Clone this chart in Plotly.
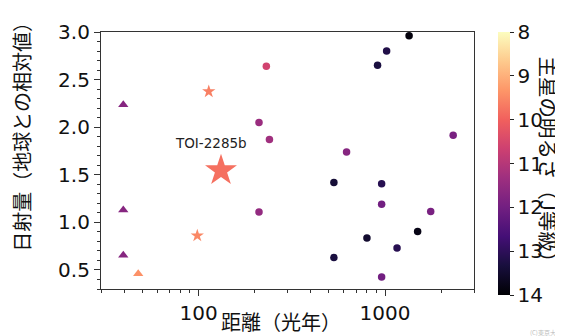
import numpy as np
import plotly.graph_objects as go

# ---- data (distance in light years, insolation relative to Earth, host-star J magnitude)
circ_dist = [231, 211, 240, 211, 1346, 1020, 912, 2320, 622, 532, 959, 959, 1758, 1496, 800, 1160, 532, 959]
circ_flux = [2.64, 2.05, 1.87, 1.11, 2.96, 2.80, 2.65, 1.915, 1.74, 1.42, 1.405, 1.19, 1.115, 0.905, 0.835, 0.73, 0.63, 0.425]
circ_jmag = [10.6, 11.4, 11.3, 11.5, 13.9, 13.2, 13.3, 11.9, 11.7, 13.4, 13.1, 12.0, 11.9, 13.8, 13.5, 13.1, 13.3, 12.0]

tri_dist = [39.5, 39.5, 39.5, 47.5]
tri_flux = [2.235, 1.13, 0.655, 0.46]
tri_jmag = [11.7, 11.7, 11.7, 9.4]

star_dist = [113.5, 98.5]
star_flux = [2.375, 0.86]
star_jmag = [9.6, 9.5]

toi_name = "TOI-2285b"
toi_dist = [132]
toi_flux = [1.545]
toi_jmag = [9.8]

cbar_ticks = [8, 9, 10, 11, 12, 13, 14]
x_ticks = [100, 1000]

# ---- layout geometry (pixels)
W, H = 563, 336
L, R, T, B = 93, 466, 21, 281
pw, ph = R - L, B - T


def px(xp):
    return (xp - L) / pw


def py(yp):
    return (B - yp) / ph


FONT = "DejaVu Sans, Noto Sans CJK JP"
JFONT = "Noto Sans CJK JP, DejaVu Sans"

common = dict(cmin=-14, cmax=-8, colorscale="Magma")

fig = go.Figure()


def add(xs, ys, js, symbol, size, showscale=False):
    marker = dict(color=[-j for j in js], symbol=symbol, size=size,
                  line=dict(width=0), **common)
    if showscale:
        marker["showscale"] = True
        marker["colorbar"] = dict(
            x=px(490), xanchor="left", xpad=0, thickness=12,
            y=1, yanchor="top", ypad=0, lenmode="pixels", len=263,
            outlinewidth=0,
            tickvals=[-t for t in cbar_ticks], ticktext=[str(t) for t in cbar_ticks],
            ticks="outside", ticklen=4, tickcolor="#222",
            tickfont=dict(family=FONT, size=20, color="#111"),
        )
    fig.add_trace(go.Scatter(x=xs, y=ys, mode="markers", marker=marker,
                             showlegend=False, hoverinfo="skip"))


add(circ_dist, circ_flux, circ_jmag, "circle", 7.5, showscale=True)
add(tri_dist, tri_flux, tri_jmag, "triangle-up", 9)
add(star_dist, star_flux, star_jmag, "star", 10)
add(toi_dist, toi_flux, toi_jmag, "star", 24)

minor_x = [v * m for m in (10, 100, 1000) for v in range(2, 10)]
minor_x = [v for v in minor_x if 30 <= v <= 3000 and v not in x_ticks]

fig.update_xaxes(
    type="log", range=[np.log10(30), np.log10(3000)],
    tickvals=x_ticks, ticktext=[str(v) for v in x_ticks],
    ticks="outside", ticklen=6, tickcolor="#333",
    minor=dict(tickvals=minor_x, ticks="outside", ticklen=3, tickcolor="#333"),
    showline=True, linecolor="#333", linewidth=1.2, mirror=True,
    showgrid=False, zeroline=False,
    tickfont=dict(family=FONT, size=20, color="#111"),
)
fig.update_yaxes(
    range=[0.3, 3.0], tickvals=[0.5, 1.0, 1.5, 2.0, 2.5, 3.0],
    ticktext=["0.5", "1.0", "1.5", "2.0", "2.5", "3.0"],
    ticks="outside", ticklen=6, tickcolor="#333",
    minor=dict(dtick=0.1, ticks="outside", ticklen=3, tickcolor="#333"),
    showline=True, linecolor="#333", linewidth=1.2, mirror=True,
    showgrid=False, zeroline=False,
    tickfont=dict(family=FONT, size=20, color="#111"),
)

C = dict(xanchor="center", yanchor="middle", showarrow=False)
annotations = [
    dict(text=toi_name, xref="x", yref="y", x=np.log10(116.5), y=1.835,
         font=dict(family=FONT, size=13.5, color="#222"), **C),
    dict(text="距離（光年）", xref="paper", yref="paper", x=px(273), y=py(331),
         xanchor="center", yanchor="bottom", showarrow=False,
         font=dict(family=JFONT, size=20, color="#111")),
    dict(text="日射量（地球との相対値）", xref="paper", yref="paper", x=px(14), y=py(122),
         textangle=-90, font=dict(family=JFONT, size=20, color="#111"), **C),
    dict(text="主星の明るさ（J等級）", xref="paper", yref="paper", x=px(541), y=py(155),
         textangle=90, font=dict(family=JFONT, size=20.5, color="#111"), **C),
    dict(text="(C)東京大学", xref="paper", yref="paper", x=px(538), y=py(325),
         font=dict(family=JFONT, size=6, color="#bbbbbb"), **C),
]

fig.update_layout(
    width=W, height=H,
    margin=dict(l=L, r=W - R, t=T, b=H - B, pad=0),
    paper_bgcolor="white", plot_bgcolor="white",
    annotations=annotations,
    font=dict(family=FONT),
)

fig.write_html("out.html")
